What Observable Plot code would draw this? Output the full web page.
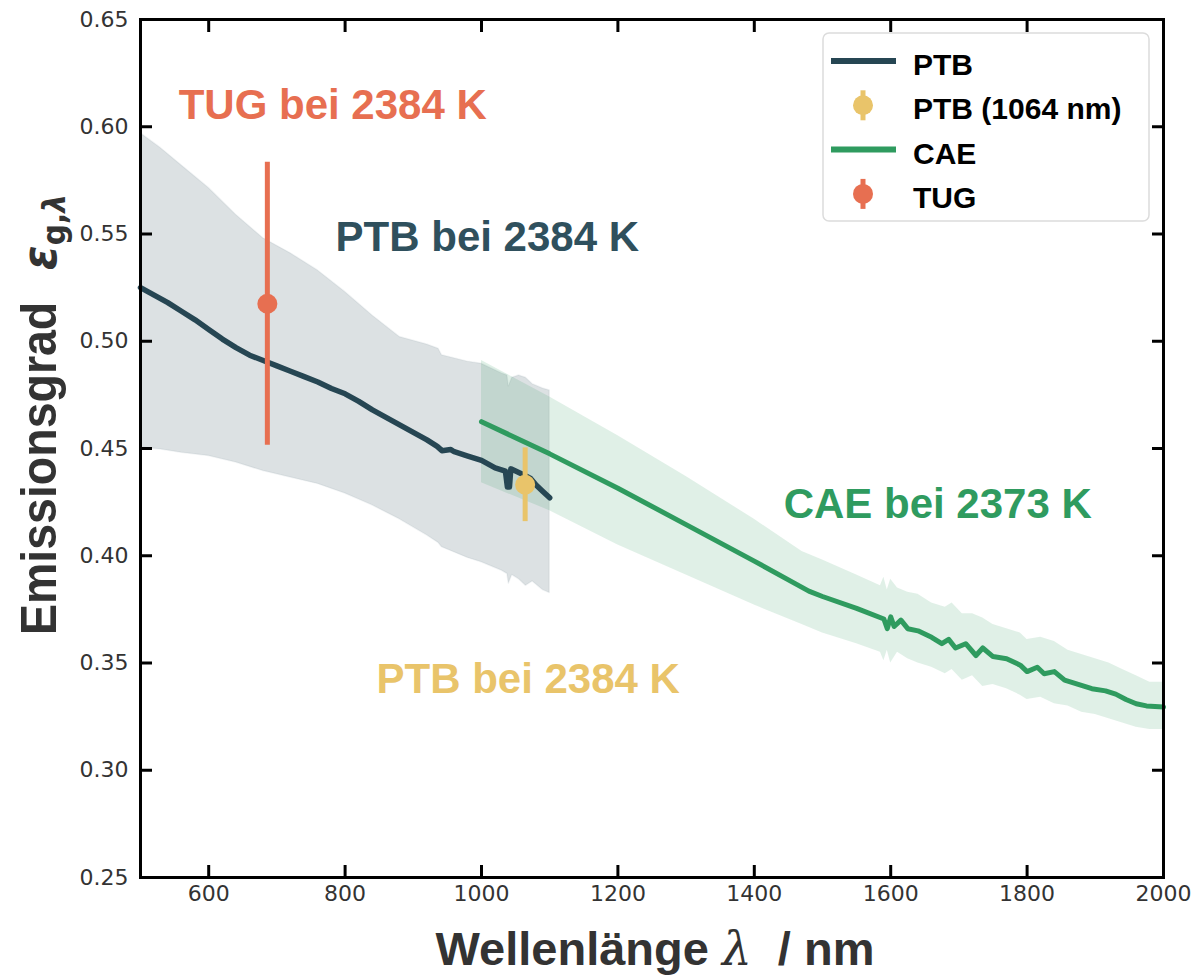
<!DOCTYPE html>
<html>
<head>
<meta charset="utf-8">
<script src="https://cdn.jsdelivr.net/npm/d3@7"></script>
<script src="https://cdn.jsdelivr.net/npm/@observablehq/plot@0.6"></script>
<style>
  html, body { margin: 0; padding: 0; background: #fff; }
  svg { display: block; }
</style>
</head>
<body>
<div id="chart"></div>
<script>
// ---------- tick labels ----------
const xTicks = [600, 800, 1000, 1200, 1400, 1600, 1800, 2000];
const yTicks = [0.25, 0.30, 0.35, 0.40, 0.45, 0.50, 0.55, 0.60, 0.65];

// ---------- PTB spectral emissivity (line) ----------
const ptbWl  = [500, 520, 540, 560, 580, 600, 620, 640, 660, 680, 700, 720, 740, 760, 780, 800, 820, 840, 860, 880, 900, 920, 935, 942, 955, 960, 980, 1000, 1020, 1035, 1038, 1041, 1043, 1050, 1060, 1072, 1080, 1090, 1100];
const ptbEps = [0.525, 0.5215, 0.518, 0.514, 0.510, 0.5055, 0.501, 0.497, 0.4935, 0.491, 0.4885, 0.486, 0.4835, 0.481, 0.478, 0.4755, 0.472, 0.468, 0.4645, 0.461, 0.4575, 0.454, 0.451, 0.449, 0.4495, 0.4485, 0.4465, 0.4445, 0.441, 0.4395, 0.432, 0.432, 0.4405, 0.4395, 0.438, 0.436, 0.433, 0.430, 0.427];

// ---------- PTB uncertainty band ----------
const ptbBandWl = [500, 530, 560, 600, 640, 680, 720, 760, 800, 840, 880, 920, 937, 942, 980, 1000, 1030, 1038, 1040, 1045, 1055, 1065, 1075, 1090, 1100];
const ptbBandHi = [0.597, 0.590, 0.582, 0.5715, 0.559, 0.548, 0.541, 0.533, 0.523, 0.512, 0.502, 0.4985, 0.4965, 0.4935, 0.4905, 0.4895, 0.485, 0.484, 0.479, 0.483, 0.484, 0.483, 0.480, 0.478, 0.477];
const ptbBandLo = [0.4505, 0.4495, 0.448, 0.4465, 0.4435, 0.4395, 0.4365, 0.4335, 0.429, 0.4235, 0.417, 0.4095, 0.406, 0.404, 0.399, 0.397, 0.393, 0.3915, 0.387, 0.391, 0.389, 0.386, 0.388, 0.384, 0.3826];

// ---------- CAE spectral emissivity (line) ----------
const caeWl  = [1000, 1100, 1200, 1300, 1400, 1460, 1480, 1500, 1550, 1590, 1595, 1600, 1605, 1615, 1625, 1640, 1660, 1675, 1685, 1695, 1710, 1725, 1735, 1750, 1770, 1790, 1800, 1815, 1825, 1840, 1855, 1875, 1895, 1915, 1930, 1945, 1960, 1975, 2000];
const caeEps = [0.4625, 0.4475, 0.4315, 0.4145, 0.3975, 0.387, 0.3835, 0.381, 0.3755, 0.3705, 0.366, 0.3715, 0.367, 0.370, 0.366, 0.365, 0.362, 0.359, 0.361, 0.357, 0.359, 0.3535, 0.357, 0.353, 0.352, 0.349, 0.346, 0.348, 0.345, 0.346, 0.342, 0.340, 0.338, 0.337, 0.3355, 0.333, 0.331, 0.330, 0.3295];

// ---------- CAE uncertainty band ----------
const caeBandWl = [1000, 1100, 1200, 1300, 1400, 1470, 1500, 1550, 1585, 1590, 1595, 1600, 1610, 1625, 1640, 1660, 1680, 1690, 1705, 1720, 1735, 1750, 1770, 1790, 1800, 1820, 1840, 1860, 1880, 1900, 1920, 1940, 1960, 1980, 2000];
const caeBandHi = [0.491, 0.474, 0.456, 0.437, 0.417, 0.402, 0.398, 0.391, 0.386, 0.390, 0.384, 0.389, 0.385, 0.383, 0.382, 0.378, 0.376, 0.378, 0.373, 0.373, 0.371, 0.368, 0.366, 0.364, 0.361, 0.362, 0.360, 0.356, 0.354, 0.352, 0.350, 0.347, 0.344, 0.341, 0.341];
const caeBandLo = [0.434, 0.421, 0.405, 0.391, 0.377, 0.368, 0.364, 0.359, 0.355, 0.351, 0.356, 0.350, 0.355, 0.352, 0.350, 0.348, 0.345, 0.347, 0.342, 0.344, 0.339, 0.340, 0.338, 0.335, 0.333, 0.334, 0.331, 0.330, 0.327, 0.326, 0.324, 0.322, 0.320, 0.319, 0.319];

// ---------- single-point measurements ----------
const tugWl = [686], tugEps = [0.5175], tugErr = [0.066];
const ptbPtWl = [1064], ptbPtEps = [0.4331], ptbPtErr = [0.0172];

// ---------- annotations ----------
const noteText  = ["TUG bei 2384 K", "PTB bei 2384 K", "CAE bei 2373 K", "PTB bei 2384 K"];
const noteWl    = [556, 786, 1443, 846];
const noteEps   = [0.610, 0.5485, 0.424, 0.3425];
const noteColor = ["#e76f51", "#2f505d", "#2f9b5f", "#e9c46a"];

// ---------- legend ----------
const legendLabels = ["PTB", "PTB (1064 nm)", "CAE", "TUG"];
const legendKinds  = ["line", "dot", "line", "dot"];
const legendColors = ["#264653", "#e9c46a", "#2f9b5f", "#e76f51"];

// ---------- tables ----------
const ptbLine = ptbWl.map((w, i) => ({wl: w, eps: ptbEps[i]}));
const ptbBand = ptbBandWl.map((w, i) => ({wl: w, lo: ptbBandLo[i], hi: ptbBandHi[i]}));
const caeLine = caeWl.map((w, i) => ({wl: w, eps: caeEps[i]}));
const caeBand = caeBandWl.map((w, i) => ({wl: w, lo: caeBandLo[i], hi: caeBandHi[i]}));
const tug = tugWl.map((w, i) => ({wl: w, eps: tugEps[i], lo: tugEps[i] - tugErr[i], hi: tugEps[i] + tugErr[i]}));
const ptbPt = ptbPtWl.map((w, i) => ({wl: w, eps: ptbPtEps[i], lo: ptbPtEps[i] - ptbPtErr[i], hi: ptbPtEps[i] + ptbPtErr[i]}));
const notes = noteText.map((t, i) => ({text: t, wl: noteWl[i], eps: noteEps[i], color: noteColor[i]}));

const PTB = "#264653", CAE = "#2f9b5f", TUG = "#e76f51", PTBY = "#e9c46a";

const plot = Plot.plot({
  width: 1196,
  height: 975,
  marginLeft: 140,
  marginRight: 33,
  marginTop: 19,
  marginBottom: 98,
  style: {fontFamily: "DejaVu Sans", fontSize: "22px", background: "white", color: "black"},
  x: {domain: [500, 2000]},
  y: {domain: [0.25, 0.65]},
  color: {type: "identity"},
  marks: [
    Plot.areaY(ptbBand, {x: "wl", y1: "lo", y2: "hi", fill: PTB, fillOpacity: 0.16, stroke: PTB, strokeOpacity: 0.06, strokeWidth: 1.5}),
    Plot.areaY(caeBand, {x: "wl", y1: "lo", y2: "hi", fill: CAE, fillOpacity: 0.15}),
    Plot.line(ptbLine, {x: "wl", y: "eps", stroke: PTB, strokeWidth: 5.5}),
    Plot.line(caeLine, {x: "wl", y: "eps", stroke: CAE, strokeWidth: 5}),
    Plot.ruleX(tug, {x: "wl", y1: "lo", y2: "hi", stroke: TUG, strokeWidth: 5}),
    Plot.dot(tug, {x: "wl", y: "eps", r: 10, fill: TUG}),
    Plot.ruleX(ptbPt, {x: "wl", y1: "lo", y2: "hi", stroke: PTBY, strokeWidth: 5}),
    Plot.dot(ptbPt, {x: "wl", y: "eps", r: 10, fill: PTBY}),
    Plot.text(notes, {x: "wl", y: "eps", text: "text", fill: "color", textAnchor: "start", lineAnchor: "middle",
      fontSize: 42, fontWeight: "bold", fontFamily: "Liberation Sans, Arial, sans-serif"}),
    Plot.frame({stroke: "black", strokeWidth: 3}),
    Plot.axisX(xTicks, {anchor: "bottom", tickSize: -12, tickPadding: 20, strokeWidth: 3, stroke: "black", fill: "#333", label: null, fontSize: 22, tickFormat: d3.format("d")}),
    Plot.axisX(xTicks, {anchor: "top", tickSize: -12, strokeWidth: 3, stroke: "black", fill: "none", label: null}),
    Plot.axisY(yTicks, {anchor: "left", tickSize: -12, tickPadding: 24, strokeWidth: 3, stroke: "black", fill: "#333", label: null, fontSize: 22, tickFormat: d3.format(".2f")}),
    Plot.axisY(yTicks, {anchor: "right", tickSize: -12, strokeWidth: 3, stroke: "black", fill: "none", label: null})
  ]
});

document.getElementById("chart").appendChild(plot);

// ---------- axis titles ----------
const svg = d3.select(plot);
const sans = "Liberation Sans, Arial, sans-serif";

const xl = svg.append("text")
  .attr("x", 655).attr("y", 965)
  .attr("text-anchor", "middle")
  .attr("fill", "#333")
  .style("font-family", sans).style("font-size", "47px").style("font-weight", "bold");
xl.append("tspan").text("Wellenlänge ");
xl.append("tspan").style("font-family", "DejaVu Serif, serif").style("font-style", "italic").style("font-weight", "normal").text("λ");
xl.append("tspan").attr("xml:space", "preserve").text("  / nm");

const yl = svg.append("text")
  .attr("transform", "translate(56,635) rotate(-90) scale(0.93,1)")
  .attr("text-anchor", "start")
  .attr("fill", "#333")
  .style("font-family", sans).style("font-size", "50px").style("font-weight", "bold");
yl.append("tspan").text("Emissionsgrad");
yl.append("tspan").attr("dx", 34).style("font-family", "DejaVu Sans, sans-serif").style("font-style", "italic").style("font-size", "48px").text("ε");
yl.append("tspan").attr("dy", 9).style("font-family", "DejaVu Sans, sans-serif").style("font-size", "32px").text("g,");
yl.append("tspan").style("font-family", "DejaVu Sans, sans-serif").style("font-style", "italic").style("font-size", "32px").text("λ");

// ---------- legend ----------
const lg = svg.append("g").attr("text-anchor", "start");
lg.append("rect").attr("x", 823).attr("y", 33).attr("width", 326).attr("height", 188).attr("rx", 6)
  .attr("fill", "white").attr("fill-opacity", 0.85).attr("stroke", "#dcdcdc").attr("stroke-width", 1.5);
legendLabels.forEach((lab, i) => {
  const cy = 61 + i * 44.3;
  if (legendKinds[i] === "line") {
    lg.append("line").attr("x1", 831).attr("x2", 896).attr("y1", cy).attr("y2", cy)
      .attr("stroke", legendColors[i]).attr("stroke-width", 6);
  } else {
    lg.append("line").attr("x1", 863).attr("x2", 863).attr("y1", cy - 15).attr("y2", cy + 15)
      .attr("stroke", legendColors[i]).attr("stroke-width", 5);
    lg.append("circle").attr("cx", 863).attr("cy", cy).attr("r", 10).attr("fill", legendColors[i]);
  }
  lg.append("text").attr("x", 913).attr("y", cy + 14).attr("fill", "black").attr("text-anchor", "start")
    .style("font-family", sans).style("font-size", "30px").style("font-weight", "bold").text(lab);
});
</script>
</body>
</html>
